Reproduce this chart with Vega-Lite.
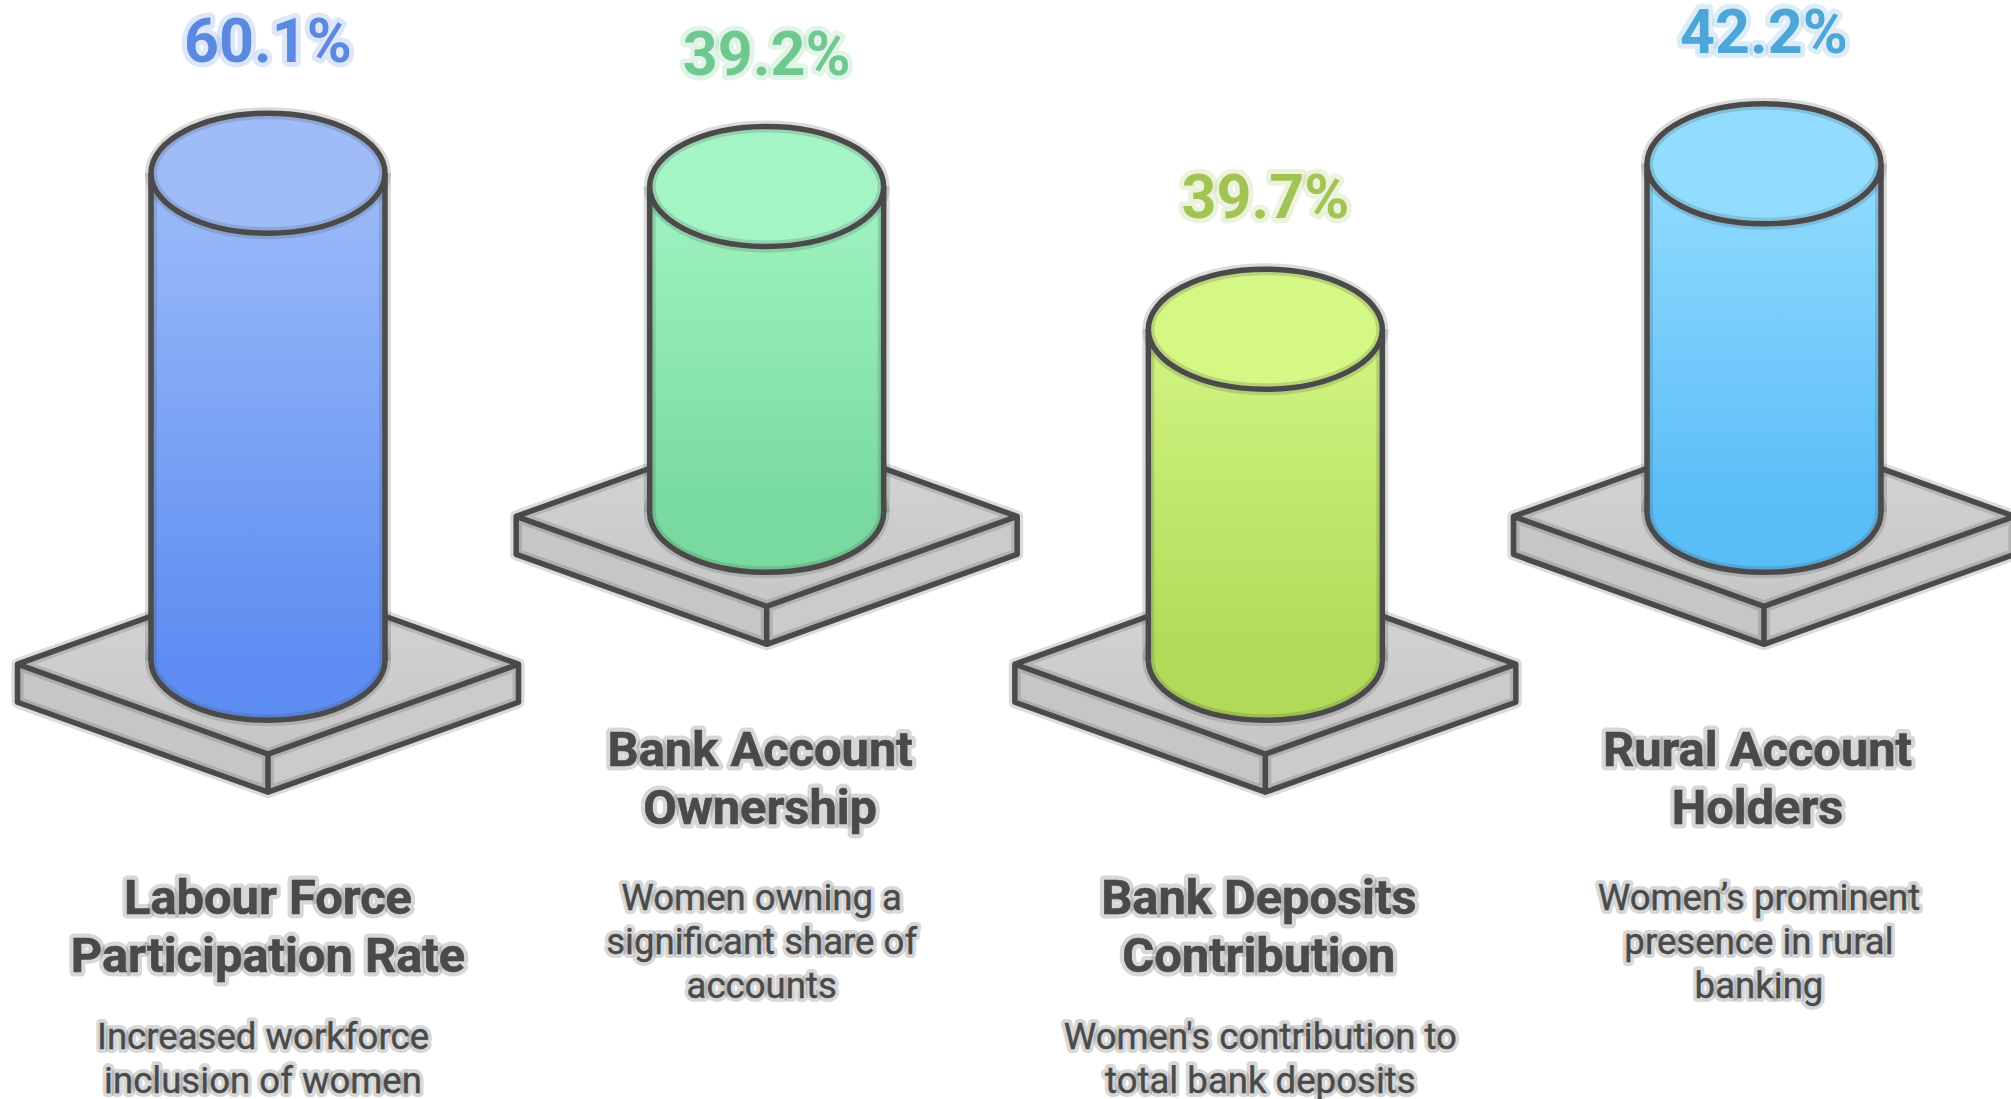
{"$schema":"https://vega.github.io/schema/vega-lite/v6.json","width":2011,"height":1099,"padding":0,"autosize":{"type":"none"},"background":"#ffffff","view":{"stroke":null},"config":{"axis":{"domain":false,"ticks":false}},
"data":{"values":[
{"key":"Labour","pct":"60.1%","value":60.1,"floor":0,"top":57.98,"title":"Labour Force\nParticipation Rate","note":"Increased workforce\ninclusion of women"},
{"key":"Account","pct":"39.2%","value":39.2,"floor":17.6,"top":56.4,"title":"Bank Account\nOwnership","note":"Women owning a\nsignificant share of\naccounts"},
{"key":"Deposits","pct":"39.7%","value":39.7,"floor":0,"top":39.4,"title":"Bank Deposits\nContribution","note":"Women's contribution to\ntotal bank deposits"},
{"key":"Rural","pct":"42.2%","value":42.2,"floor":17.6,"top":59.1,"title":"Rural Account\nHolders","note":"Women’s prominent\npresence in rural\nbanking"}
]},
"encoding":{
"x":{"field":"key","type":"nominal","sort":null,"axis":null,"scale":{"type":"point","domain":["Labour","Account","Deposits","Rural"],"range":[268,1764],"padding":0}},
"y":{"field":"floor","type":"quantitative","axis":null,"scale":{"domain":[-52.238,78.595],"range":[1099,0],"nice":false,"zero":false}}
},
"resolve":{"scale":{"fill":"independent","stroke":"independent"}},
"layer":[
{"mark":{"type":"point","filled":true,"opacity":1,"size":251001,"yOffset":4,"clip":false,"fill":"#c6c6c6","shape":"M-1,0 L0,0.359 L0,0.511 L-1,0.152 Z"}},
{"mark":{"type":"point","filled":true,"opacity":1,"size":251001,"yOffset":4,"clip":false,"fill":"#cbcbcb","shape":"M1,0 L0,0.359 L0,0.511 L1,0.152 Z"}},
{"mark":{"type":"point","filled":true,"opacity":1,"size":251001,"yOffset":4,"clip":false,"shape":"M-1,0 L0,-0.359 L1,0 L0,0.359 Z","fill":{"gradient":"linear","x1":0,"y1":0,"x2":0,"y2":1,"stops":[{"offset":0,"color":"#d6d6d6"},{"offset":1,"color":"#c6c6c6"}]}}},
{"mark":{"type":"point","filled":false,"opacity":1,"size":251001,"yOffset":4,"clip":false,"stroke":"#4a4a4a","strokeOpacity":0.2,"strokeWidth":12,"strokeJoin":"round","shape":"M-1,0 L0,-0.359 L1,0 L1,0.152 L0,0.511 L-1,0.152 Z M-1,0 L0,0.359 L1,0 M0,0.359 L0,0.511"}},
{"mark":{"type":"point","filled":false,"opacity":1,"size":251001,"yOffset":4,"clip":false,"stroke":"#4a4a4a","strokeWidth":5.5,"strokeJoin":"round","shape":"M-1,0 L0,-0.359 L1,0 L1,0.152 L0,0.511 L-1,0.152 Z M-1,0 L0,0.359 L1,0 M0,0.359 L0,0.511"}},

{"mark":{"type":"point","filled":true,"opacity":1,"size":54756,"clip":false,"shape":"M-1,0 C-1,-0.2832 -0.5523,-0.5128 0,-0.5128 C0.5523,-0.5128 1,-0.2832 1,0 C1,0.2832 0.5523,0.5128 0,0.5128 C-0.5523,0.5128 -1,0.2832 -1,0 Z"},
 "encoding":{"fill":{"field":"key","type":"nominal","legend":null,"scale":{"domain":["Labour","Account","Deposits","Rural"],"range":["#5d8df2","#78da9e","#b0da58","#59bdf7"]}}}},
{"mark":{"type":"point","filled":false,"opacity":1,"size":54756,"clip":false,"stroke":"#4a4a4a","strokeOpacity":0.2,"strokeWidth":12,"shape":"M-1,0 C-1,-0.2832 -0.5523,-0.5128 0,-0.5128 C0.5523,-0.5128 1,-0.2832 1,0 C1,0.2832 0.5523,0.5128 0,0.5128 C-0.5523,0.5128 -1,0.2832 -1,0 Z"}},
{"mark":{"type":"point","filled":false,"opacity":1,"size":54756,"clip":false,"stroke":"#4a4a4a","strokeWidth":5.5,"shape":"M-1,0 C-1,-0.2832 -0.5523,-0.5128 0,-0.5128 C0.5523,-0.5128 1,-0.2832 1,0 C1,0.2832 0.5523,0.5128 0,0.5128 C-0.5523,0.5128 -1,0.2832 -1,0 Z"}},

{"transform":[{"filter":"datum.key==='Labour'"}],"mark":{"type":"bar","width":234,"clip":false,"fill":{"gradient":"linear","x1":0,"y1":0,"x2":0,"y2":1,"stops":[{"offset":0,"color":"#9dbcf8"},{"offset":1,"color":"#5d8df2"}]}},"encoding":{"y":{"field":"top","type":"quantitative"},"y2":{"field":"floor"}}},
{"transform":[{"filter":"datum.key==='Account'"}],"mark":{"type":"bar","width":234,"clip":false,"fill":{"gradient":"linear","x1":0,"y1":0,"x2":0,"y2":1,"stops":[{"offset":0,"color":"#a0f4c2"},{"offset":1,"color":"#78da9e"}]}},"encoding":{"y":{"field":"top","type":"quantitative"},"y2":{"field":"floor"}}},
{"transform":[{"filter":"datum.key==='Deposits'"}],"mark":{"type":"bar","width":234,"clip":false,"fill":{"gradient":"linear","x1":0,"y1":0,"x2":0,"y2":1,"stops":[{"offset":0,"color":"#d2f583"},{"offset":1,"color":"#b0da58"}]}},"encoding":{"y":{"field":"top","type":"quantitative"},"y2":{"field":"floor"}}},
{"transform":[{"filter":"datum.key==='Rural'"}],"mark":{"type":"bar","width":234,"clip":false,"fill":{"gradient":"linear","x1":0,"y1":0,"x2":0,"y2":1,"stops":[{"offset":0,"color":"#92dcff"},{"offset":1,"color":"#59bdf7"}]}},"encoding":{"y":{"field":"top","type":"quantitative"},"y2":{"field":"floor"}}},

{"mark":{"type":"rule","xOffset":-117,"stroke":"#4a4a4a","strokeOpacity":0.2,"strokeWidth":12},"encoding":{"y":{"field":"top","type":"quantitative"},"y2":{"field":"floor"}}},
{"mark":{"type":"rule","xOffset":117,"stroke":"#4a4a4a","strokeOpacity":0.2,"strokeWidth":12},"encoding":{"y":{"field":"top","type":"quantitative"},"y2":{"field":"floor"}}},
{"mark":{"type":"rule","xOffset":-117,"stroke":"#4a4a4a","strokeWidth":5.5},"encoding":{"y":{"field":"top","type":"quantitative"},"y2":{"field":"floor"}}},
{"mark":{"type":"rule","xOffset":117,"stroke":"#4a4a4a","strokeWidth":5.5},"encoding":{"y":{"field":"top","type":"quantitative"},"y2":{"field":"floor"}}},

{"mark":{"type":"point","filled":true,"opacity":1,"size":54756,"clip":false,"shape":"M-1,0 C-1,-0.2832 -0.5523,-0.5128 0,-0.5128 C0.5523,-0.5128 1,-0.2832 1,0 C1,0.2832 0.5523,0.5128 0,0.5128 C-0.5523,0.5128 -1,0.2832 -1,0 Z"},
 "encoding":{"y":{"field":"top","type":"quantitative"},
 "fill":{"field":"key","type":"nominal","legend":null,"scale":{"domain":["Labour","Account","Deposits","Rural"],"range":["#9fbcf9","#a4f5c5","#d5f784","#92ddff"]}}}},
{"mark":{"type":"point","filled":false,"opacity":1,"size":54756,"clip":false,"stroke":"#4a4a4a","strokeOpacity":0.2,"strokeWidth":12,"shape":"M-1,0 C-1,-0.2832 -0.5523,-0.5128 0,-0.5128 C0.5523,-0.5128 1,-0.2832 1,0 C1,0.2832 0.5523,0.5128 0,0.5128 C-0.5523,0.5128 -1,0.2832 -1,0 Z"},"encoding":{"y":{"field":"top","type":"quantitative"}}},
{"mark":{"type":"point","filled":false,"opacity":1,"size":54756,"clip":false,"stroke":"#4a4a4a","strokeWidth":5.5,"shape":"M-1,0 C-1,-0.2832 -0.5523,-0.5128 0,-0.5128 C0.5523,-0.5128 1,-0.2832 1,0 C1,0.2832 0.5523,0.5128 0,0.5128 C-0.5523,0.5128 -1,0.2832 -1,0 Z"},"encoding":{"y":{"field":"top","type":"quantitative"}}},

{"mark":{"type":"text","font":"Roboto","fontWeight":700,"fontSize":61,"baseline":"alphabetic","align":"center","dy":-111,"fill":null,"strokeWidth":10,"strokeOpacity":0.2,"strokeJoin":"round"},
 "encoding":{"y":{"field":"top","type":"quantitative"},"text":{"field":"pct"},
 "stroke":{"field":"key","type":"nominal","legend":null,"scale":{"domain":["Labour","Account","Deposits","Rural"],"range":["#5b89e0","#6fc98e","#a2c455","#4ea5d8"]}}}},
{"mark":{"type":"text","font":"Roboto","fontWeight":700,"fontSize":61,"baseline":"alphabetic","align":"center","dy":-111},
 "encoding":{"y":{"field":"top","type":"quantitative"},"text":{"field":"pct"},
 "fill":{"field":"key","type":"nominal","legend":null,"scale":{"domain":["Labour","Account","Deposits","Rural"],"range":["#5b89e0","#6fc98e","#a2c455","#4ea5d8"]}}}},

{"transform":[{"filter":"datum.key==='Labour'"}],"mark":{"type":"text","font":"Roboto","fontWeight":700,"fontSize":48.8,"lineHeight":58,"lineBreak":"\n","baseline":"alphabetic","align":"center","dy":254,"fill":null,"stroke":"#4a4a4a","strokeWidth":9,"strokeOpacity":0.22,"strokeJoin":"round"},"encoding":{"text":{"field":"title"}}},
{"transform":[{"filter":"datum.key!=='Labour'"}],"mark":{"type":"text","font":"Roboto","fontWeight":700,"fontSize":48.8,"lineHeight":58,"lineBreak":"\n","baseline":"alphabetic","align":"center","dy":254,"dx":-6.5,"fill":null,"stroke":"#4a4a4a","strokeWidth":9,"strokeOpacity":0.22,"strokeJoin":"round"},"encoding":{"text":{"field":"title"}}},
{"transform":[{"filter":"datum.key==='Labour'"}],"mark":{"type":"text","font":"Roboto","fontWeight":700,"fontSize":48.8,"lineHeight":58,"lineBreak":"\n","baseline":"alphabetic","align":"center","dy":254,"fill":"#4a4a4a","stroke":"#4a4a4a","strokeWidth":0.6},"encoding":{"text":{"field":"title"}}},
{"transform":[{"filter":"datum.key!=='Labour'"}],"mark":{"type":"text","font":"Roboto","fontWeight":700,"fontSize":48.8,"lineHeight":58,"lineBreak":"\n","baseline":"alphabetic","align":"center","dy":254,"dx":-6.5,"fill":"#4a4a4a","stroke":"#4a4a4a","strokeWidth":0.6},"encoding":{"text":{"field":"title"}}},

{"transform":[{"filter":"datum.floor===0"}],"mark":{"type":"text","font":"Roboto","fontWeight":400,"fontSize":36.6,"lineHeight":44,"lineBreak":"\n","baseline":"alphabetic","align":"center","dy":388.9,"dx":-5,"fill":null,"stroke":"#4a4a4a","strokeWidth":8,"strokeOpacity":0.22,"strokeJoin":"round"},"encoding":{"text":{"field":"note"}}},
{"transform":[{"filter":"datum.floor!==0"}],"mark":{"type":"text","font":"Roboto","fontWeight":400,"fontSize":36.6,"lineHeight":44,"lineBreak":"\n","baseline":"alphabetic","align":"center","dy":397.8,"dx":-5,"fill":null,"stroke":"#4a4a4a","strokeWidth":8,"strokeOpacity":0.22,"strokeJoin":"round"},"encoding":{"text":{"field":"note"}}},
{"transform":[{"filter":"datum.floor===0"}],"mark":{"type":"text","font":"Roboto","fontWeight":400,"fontSize":36.6,"lineHeight":44,"lineBreak":"\n","baseline":"alphabetic","align":"center","dy":388.9,"dx":-5,"fill":"#4a4a4a","stroke":"#4a4a4a","strokeWidth":0.4},"encoding":{"text":{"field":"note"}}},
{"transform":[{"filter":"datum.floor!==0"}],"mark":{"type":"text","font":"Roboto","fontWeight":400,"fontSize":36.6,"lineHeight":44,"lineBreak":"\n","baseline":"alphabetic","align":"center","dy":397.8,"dx":-5,"fill":"#4a4a4a","stroke":"#4a4a4a","strokeWidth":0.4},"encoding":{"text":{"field":"note"}}}
]}
